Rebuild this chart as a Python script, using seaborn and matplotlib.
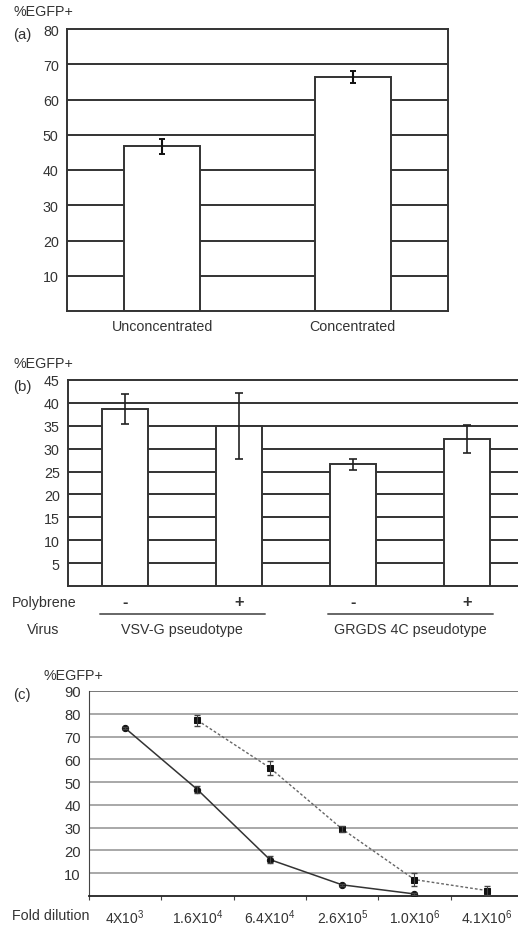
import numpy as np
import pandas as pd
import matplotlib
matplotlib.use("Agg")
import matplotlib.pyplot as plt
import matplotlib.transforms as mtransforms
import seaborn as sns

# ────────────────────────────────────────
# Data
# ────────────────────────────────────────
a_labels = ["Unconcentrated", "Concentrated"]
a_values = [46.7, 66.5]
a_errors = [2.2, 1.7]

b_labels = ["VSV-G -", "VSV-G +", "GRGDS -", "GRGDS +"]
b_polybrene = ["-", "+", "-", "+"]
b_values = [38.7, 34.9, 26.6, 32.1]
b_errors = [3.3, 7.2, 1.2, 3.0]
b_virus = ["VSV-G pseudotype", "GRGDS 4C pseudotype"]

c_ticklabels = ["4X10$^{3}$", "1.6X10$^{4}$", "6.4X10$^{4}$",
                "2.6X10$^{5}$", "1.0X10$^{6}$", "4.1X10$^{6}$"]
c_solid_x = [0, 1, 2, 3, 4]
c_solid_y = [73.7, 46.7, 16.0, 4.9, 0.9]
c_solid_err = [0.6, 1.5, 1.5, 0.5, 0.5]
c_dash_x = [1, 2, 3, 4, 5]
c_dash_y = [77.1, 56.3, 29.4, 7.2, 2.4]
c_dash_err = [2.5, 3.0, 1.5, 3.0, 2.0]

# ────────────────────────────────────────
# Setup
# ────────────────────────────────────────
sns.set_style("white")
plt.rcParams['font.family'] = ['Liberation Sans', 'DejaVu Sans']
plt.rcParams['mathtext.default'] = 'regular'

W, H = 518, 929
fig = plt.figure(figsize=(W / 100, H / 100), dpi=100)


def px_axes(left, top, right, bottom):
    return fig.add_axes([left / W, 1 - bottom / H, (right - left) / W, (bottom - top) / H])


def ftext(x, y, s, **kw):
    fig.text(x / W, 1 - y / H, s, va="center", **kw)


edge = "#333333"
txt = "#333333"
fs = 10.3
lw = 1.4

# ────────────────────────────────────────
# Panel (a)
# ────────────────────────────────────────
ax_a = px_axes(67, 30, 448, 312)
df_a = pd.DataFrame({"cond": a_labels, "val": a_values})
for y in range(10, 80, 10):
    ax_a.axhline(y, color=edge, lw=lw, zorder=0)
sns.barplot(data=df_a, x="cond", y="val", ax=ax_a, color="white",
            edgecolor=edge, linewidth=lw, width=0.4, zorder=2)
ax_a.errorbar(range(len(a_values)), a_values, yerr=a_errors, fmt="none",
              ecolor="#111111", elinewidth=1.5, capsize=2.5, capthick=1.4, zorder=3)
ax_a.set_ylim(0, 80)
ax_a.set_xlim(-0.5, 1.5)
ax_a.set_yticks(range(10, 81, 10))
ax_a.set_xlabel("")
ax_a.set_ylabel("")
ax_a.tick_params(length=0, labelsize=fs, labelcolor=txt, pad=6)
for s in ax_a.spines.values():
    s.set_color(edge)
    s.set_linewidth(lw)
ftext(13, 12, "%EGFP+", fontsize=fs, color=txt)
ftext(13, 35, "(a)", fontsize=fs + 0.5, color=txt)

# ────────────────────────────────────────
# Panel (b)
# ────────────────────────────────────────
ax_b = px_axes(68, 381, 524, 587)
df_b = pd.DataFrame({"cond": b_labels, "val": b_values})
for y in range(5, 45, 5):
    ax_b.axhline(y, color=edge, lw=lw, zorder=0)
sns.barplot(data=df_b, x="cond", y="val", ax=ax_b, color="white",
            edgecolor=edge, linewidth=lw, width=0.4, zorder=2)
ax_b.errorbar(range(len(b_values)), b_values, yerr=b_errors, fmt="none",
              ecolor="#222222", elinewidth=1.2, capsize=3, capthick=1.2, zorder=3)
ax_b.set_ylim(0, 45)
ax_b.set_xlim(-0.5, 3.5)
ax_b.set_yticks(range(5, 46, 5))
ax_b.set_xticks([])
ax_b.set_xlabel("")
ax_b.set_ylabel("")
ax_b.tick_params(length=0, labelsize=fs, labelcolor=txt, pad=6)
for s in ax_b.spines.values():
    s.set_color(edge)
    s.set_linewidth(lw)
ftext(13, 364, "%EGFP+", fontsize=fs, color=txt)
ftext(13, 387, "(b)", fontsize=fs + 0.5, color=txt)

trans_b = mtransforms.blended_transform_factory(ax_b.transData, fig.transFigure)
ftext(12, 603, "Polybrene", fontsize=fs, color=txt)
for i, sign in enumerate(b_polybrene):
    ax_b.text(i, 1 - 603 / H, sign, transform=trans_b, ha="center", va="center",
              fontsize=fs + 1.5, color=txt, fontweight="bold", clip_on=False)
ftext(27, 630, "Virus", fontsize=fs, color=txt)
for k, name in enumerate(b_virus):
    ax_b.plot([2 * k - 0.22, 2 * k + 1.23], [1 - 615 / H] * 2, transform=trans_b,
              color="#666666", lw=1.4, clip_on=False)
    ax_b.text(2 * k + 0.5, 1 - 630 / H, name, transform=trans_b, ha="center",
              va="center", fontsize=fs, color=txt)

# ────────────────────────────────────────
# Panel (c)
# ────────────────────────────────────────
ax_c = px_axes(89, 692, 523, 897)
for y in range(10, 90, 10):
    ax_c.axhline(y, color="#999999", lw=1.2, zorder=0)
sns.lineplot(x=c_solid_x, y=c_solid_y, ax=ax_c, color="#333333", lw=1.1,
             marker="o", markersize=4.5, markeredgecolor="#111111",
             markerfacecolor="#111111", zorder=3)
ax_c.errorbar(c_solid_x, c_solid_y, yerr=c_solid_err, fmt="none",
              ecolor="#444444", elinewidth=0.8, capsize=2, zorder=3)
sns.lineplot(x=c_dash_x, y=c_dash_y, ax=ax_c, color="#666666", lw=1.0,
             linestyle=(0, (2, 1.5)), marker="s", markersize=4.5,
             markeredgecolor="#111111", markerfacecolor="#111111", zorder=3)
ax_c.errorbar(c_dash_x, c_dash_y, yerr=c_dash_err, fmt="none",
              ecolor="#444444", elinewidth=0.8, capsize=2, zorder=3)
ax_c.set_xlim(-0.5, 5.5)
ax_c.set_ylim(0, 90)
ax_c.set_yticks(range(10, 91, 10))
ax_c.set_xticks(range(len(c_ticklabels)))
ax_c.set_xticklabels(c_ticklabels)
ax_c.set_xticks(np.arange(-0.5, 5.5, 1), minor=True)
ax_c.tick_params(axis="y", length=0, labelsize=fs + 0.3, labelcolor=txt, pad=6)
ax_c.tick_params(axis="x", which="major", length=0, labelsize=fs - 0.3, labelcolor=txt, pad=8)
ax_c.tick_params(axis="x", which="minor", length=3, color="#444444", width=0.8,
                 direction="out", bottom=True)
for s in ax_c.spines.values():
    s.set_visible(False)
ax_c.spines["left"].set_visible(True)
ax_c.spines["bottom"].set_visible(True)
ax_c.spines["left"].set_color("#444444")
ax_c.spines["bottom"].set_color("#222222")
ax_c.spines["bottom"].set_linewidth(1.3)
ax_c.axhline(90, color="#777777", lw=1.4, zorder=0)
ax_c.set_xlabel("")
ax_c.set_ylabel("")
ftext(43, 676, "%EGFP+", fontsize=fs, color=txt)
ftext(13, 695, "(c)", fontsize=fs + 0.5, color=txt)
ftext(12, 916, "Fold dilution", fontsize=fs, color=txt)

fig.savefig("out.png", dpi=100)
